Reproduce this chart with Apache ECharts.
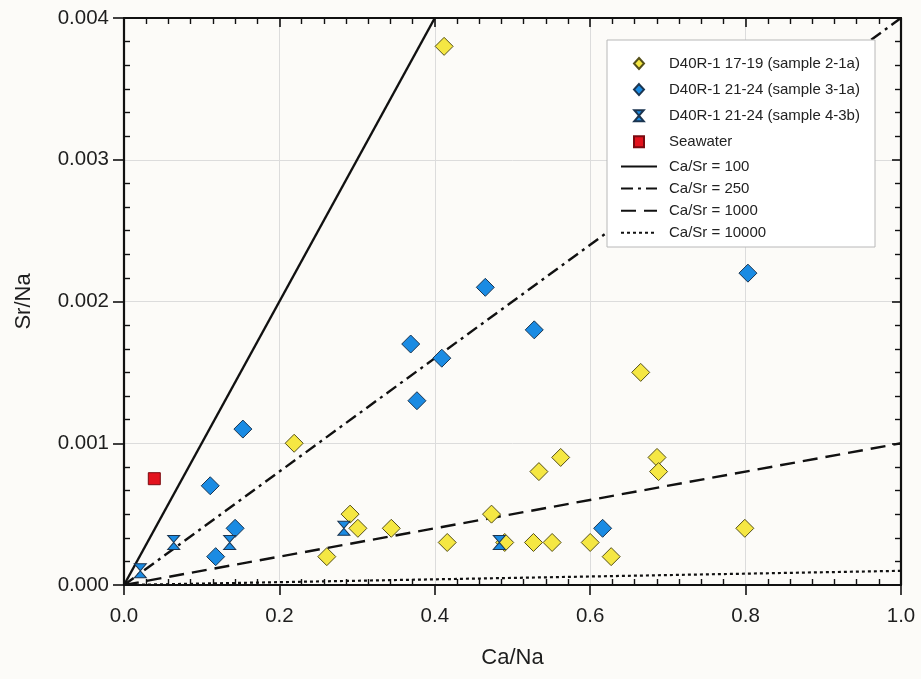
<!DOCTYPE html>
<html>
<head>
<meta charset="utf-8">
<script src="https://cdn.jsdelivr.net/npm/echarts@6/dist/echarts.min.js"></script>
<style>
  html, body { margin: 0; padding: 0; background: #fcfbf8; }
  #chart { width: 921px; height: 679px; }
</style>
</head>
<body>
<div id="chart"></div>
<script>
// Ca/Na vs Sr/Na ratios, points as [Ca/Na, Sr/Na]
const sample21a = [
  [0.412, 0.0038], [0.219, 0.0010], [0.261, 0.0002], [0.291, 0.0005], [0.301, 0.0004],
  [0.344, 0.0004], [0.416, 0.0003], [0.473, 0.0005], [0.490, 0.0003], [0.527, 0.0003],
  [0.551, 0.0003], [0.534, 0.0008], [0.562, 0.0009], [0.600, 0.0003], [0.627, 0.0002],
  [0.665, 0.0015], [0.686, 0.0009], [0.688, 0.0008], [0.799, 0.0004]
];
const sample31a = [
  [0.153, 0.0011], [0.111, 0.0007], [0.143, 0.0004], [0.118, 0.0002], [0.369, 0.0017],
  [0.377, 0.0013], [0.409, 0.0016], [0.465, 0.0021], [0.528, 0.0018], [0.616, 0.0004],
  [0.803, 0.0022]
];
const sample43b = [
  [0.021, 0.0001], [0.064, 0.0003], [0.136, 0.0003], [0.283, 0.0004], [0.483, 0.0003]
];
const seawater = [[0.039, 0.00075]];

// Reference lines of constant Ca/Sr
const caSrRatios = [100, 250, 1000, 10000];
const seriesNames = [
  'D40R-1 17-19 (sample 2-1a)',
  'D40R-1 21-24 (sample 3-1a)',
  'D40R-1 21-24 (sample 4-3b)',
  'Seawater'
];
const xTicks = [0, 1, 0.2];        // min, max, interval
const yTicks = [0, 0.004, 0.001];

const X_MAX = xTicks[1], Y_MAX = yTicks[1];
const FONT = '"Liberation Sans", Arial, sans-serif';
const HOURGLASS = 'path://M0,0 L12,0 L6,7 L12,14 L0,14 L6,7 Z';
const CLEAR = 'rgba(0,0,0,0)';

const lineDash = {
  100: 'solid',
  250: [12, 5, 3, 5],
  1000: [15, 8],
  10000: [3, 3]
};

const ratioSeries = caSrRatios.map(r => {
  // endpoint where Sr/Na = Ca/Na / r leaves the plotted range
  const xEnd = Math.min(X_MAX, Y_MAX * r);
  return {
    name: 'Ca/Sr = ' + r,
    type: 'line',
    data: [[0, 0], [xEnd, xEnd / r]],
    symbol: 'none',
    silent: true,
    z: 1,
    lineStyle: { color: '#111', width: r === 10000 ? 2.2 : 2.4, type: lineDash[r] },
    itemStyle: { color: '#111' }
  };
});

const chart = echarts.init(document.getElementById('chart'));

const tickLine = { color: '#111', width: 1.6 };
const minorLine = { color: '#111', width: 1.4 };
const frameLine = () => ({ show: true, onZero: false, lineStyle: { color: '#111', width: 2.2 } });
const gridLine = { show: true, lineStyle: { color: '#dcdcdc', width: 1 } };
const tickFont = { fontSize: 20.5, color: '#1e1e1e', fontFamily: FONT };
const titleFont = { fontSize: 22, color: '#1e1e1e', fontFamily: FONT };
const legendFont = { fontSize: 15, color: '#222', fontFamily: FONT };

chart.setOption({
  backgroundColor: '#fcfbf8',
  animation: false,
  textStyle: { fontFamily: FONT },
  grid: { left: 124, right: 20, top: 18, bottom: 94 },
  graphic: [{
    type: 'rect',
    z: 3,
    shape: { x: 607, y: 40, width: 268, height: 207 },
    style: { fill: '#ffffff', stroke: '#b8b8b8', lineWidth: 1 }
  }],
  legend: [
    {
      z: 6,
      left: 628, top: 51,
      orient: 'vertical',
      itemWidth: 10, itemHeight: 11, itemGap: 11.1,
      textStyle: Object.assign({ padding: [0, 0, 0, 20] }, legendFont),
      data: [
        { name: seriesNames[0], icon: 'diamond' },
        { name: seriesNames[1], icon: 'diamond' },
        { name: seriesNames[2], icon: HOURGLASS },
        { name: seriesNames[3], icon: 'rect' }
      ]
    },
    {
      z: 6,
      left: 615, top: 154,
      orient: 'vertical',
      itemWidth: 36, itemHeight: 12, itemGap: 7.1,
      itemStyle: { color: CLEAR, borderColor: CLEAR, borderWidth: 0 },
      textStyle: Object.assign({ padding: [0, 0, 0, 7] }, legendFont),
      data: caSrRatios.map(r => 'Ca/Sr = ' + r)
    }
  ],
  xAxis: [
    {
      type: 'value', min: xTicks[0], max: xTicks[1], interval: xTicks[2],
      position: 'bottom',
      name: 'Ca/Na', nameLocation: 'middle', nameGap: 62,
      nameTextStyle: titleFont,
      axisLine: frameLine(),
      // major ticks point out of the frame, minor ticks point in
      axisTick: { show: true, inside: true, length: -10, lineStyle: tickLine },
      minorTick: { show: true, splitNumber: 7, length: 6, lineStyle: minorLine },
      axisLabel: Object.assign({ margin: 21, formatter: v => v.toFixed(1) }, tickFont),
      splitLine: gridLine
    },
    {
      type: 'value', min: xTicks[0], max: xTicks[1], interval: xTicks[2],
      position: 'top',
      axisLine: frameLine(),
      axisTick: { show: true, inside: true, length: 9, lineStyle: tickLine },
      minorTick: { show: true, splitNumber: 7, length: 6, lineStyle: minorLine },
      axisLabel: { show: false },
      splitLine: { show: false }
    }
  ],
  yAxis: [
    {
      type: 'value', min: yTicks[0], max: yTicks[1], interval: yTicks[2],
      position: 'left',
      name: 'Sr/Na', nameLocation: 'middle', nameGap: 89,
      nameTextStyle: titleFont,
      axisLine: frameLine(),
      axisTick: { show: true, inside: true, length: -11, lineStyle: tickLine },
      minorTick: { show: true, splitNumber: 6, length: 6, lineStyle: minorLine },
      axisLabel: Object.assign({ margin: 15, formatter: v => v.toFixed(3) }, tickFont),
      splitLine: gridLine
    },
    {
      type: 'value', min: yTicks[0], max: yTicks[1], interval: yTicks[2],
      position: 'right',
      axisLine: frameLine(),
      axisTick: { show: true, inside: true, length: 9, lineStyle: tickLine },
      minorTick: { show: true, splitNumber: 6, length: 6, lineStyle: minorLine },
      axisLabel: { show: false },
      splitLine: { show: false }
    }
  ],
  series: ratioSeries.concat([
    {
      name: seriesNames[0], type: 'scatter', data: sample21a, z: 3,
      symbol: 'diamond', symbolSize: 18,
      itemStyle: { color: '#f5e743', borderColor: '#55501a', borderWidth: 1, opacity: 1 }
    },
    {
      name: seriesNames[1], type: 'scatter', data: sample31a, z: 3,
      symbol: 'diamond', symbolSize: 18,
      itemStyle: { color: '#1a8be3', borderColor: '#1b3550', borderWidth: 1, opacity: 1 }
    },
    {
      name: seriesNames[2], type: 'scatter', data: sample43b, z: 3,
      symbol: HOURGLASS, symbolSize: [12, 14],
      itemStyle: { color: '#1a8be3', borderColor: '#1b3550', borderWidth: 1, opacity: 1 }
    },
    {
      name: seriesNames[3], type: 'scatter', data: seawater, z: 3,
      symbol: 'rect', symbolSize: 12,
      itemStyle: { color: '#e3121d', borderColor: '#7a0a10', borderWidth: 1, opacity: 1 }
    }
  ])
});
</script>
</body>
</html>
